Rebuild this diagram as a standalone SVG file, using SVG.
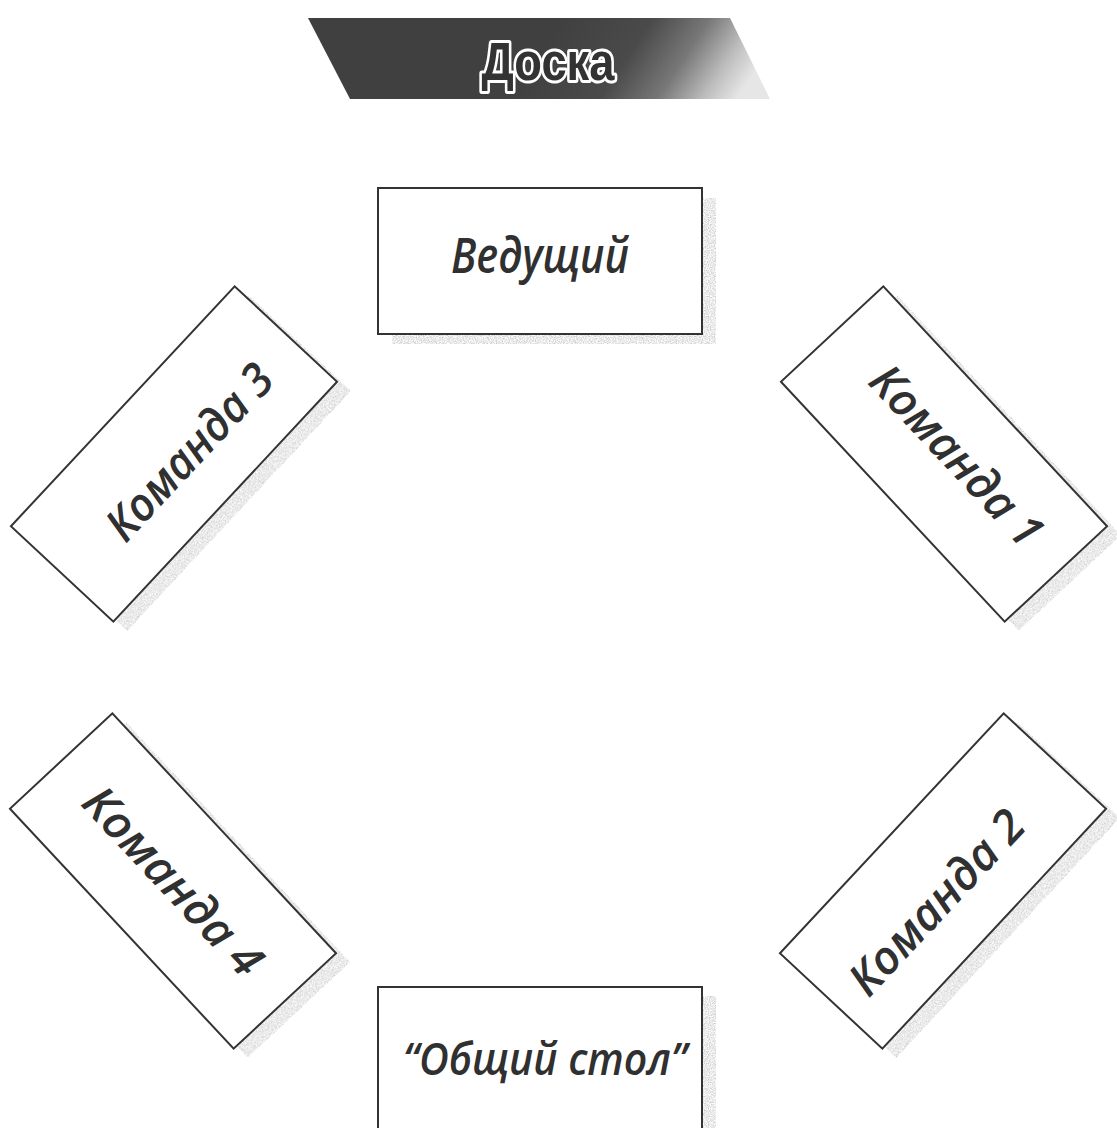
<svg xmlns="http://www.w3.org/2000/svg" width="1117" height="1128" viewBox="0 0 1117 1128">
  <defs>
    <linearGradient id="bannerGrad" gradientUnits="userSpaceOnUse" x1="560" y1="20" x2="720" y2="125">
      <stop offset="0" stop-color="#404040"/>
      <stop offset="0.4" stop-color="#4a4a4a"/>
      <stop offset="0.65" stop-color="#777777"/>
      <stop offset="0.85" stop-color="#bdbdbd"/>
      <stop offset="1" stop-color="#e6e6e6"/>
    </linearGradient>
    <filter id="grain" x="-10%" y="-10%" width="120%" height="120%">
      <feTurbulence type="fractalNoise" baseFrequency="0.85" numOctaves="2" seed="7" result="n"/>
      <feColorMatrix in="n" type="matrix" values="0 0 0 0 0.6  0 0 0 0 0.6  0 0 0 0 0.6  0 0 0 2 -0.6" result="dots"/>
      <feComposite in="dots" in2="SourceGraphic" operator="in" result="d"/>
      <feGaussianBlur in="d" stdDeviation="0.5"/>
    </filter>
  </defs>
  <style>
    .box { fill: #ffffff; stroke: #333333; stroke-width: 2; }
    .shadow { fill: #000000; filter: url(#grain); }
    .lbl { font-family: "Open Sans", "Noto Sans", "DejaVu Sans", sans-serif; font-style: italic; font-weight: 600; fill: #303030; text-anchor: middle; }
    .title { font-family: "Liberation Sans", "DejaVu Sans", sans-serif; font-weight: bold; fill: #333333; stroke: #ffffff; stroke-width: 6; stroke-linejoin: round; paint-order: stroke; text-anchor: middle; }
  </style>
  <rect width="1117" height="1128" fill="#ffffff"/>

  <g id="board">
    <polygon points="308,18 730,18 770,99 350,99" fill="url(#bannerGrad)"/>
    <text class="title" x="548" y="80" font-size="54" textLength="133" lengthAdjust="spacingAndGlyphs">Доска</text>
  </g>

  <g id="host">
    <rect class="shadow" x="392" y="198" width="324" height="146"/>
    <rect class="box" x="378" y="188" width="324" height="146"/>
    <text class="lbl" x="540" y="273" font-size="48" textLength="178" lengthAdjust="spacingAndGlyphs">Ведущий</text>
  </g>

  <g id="team3">
    <g transform="translate(14,9)"><g transform="translate(174,454) rotate(-47)"><rect class="shadow" x="-164" y="-70" width="328" height="140"/></g></g>
    <g transform="translate(174,454) rotate(-47)">
      <rect class="box" x="-164" y="-70" width="328" height="140"/>
      <text class="lbl" x="12" y="26" font-size="46" textLength="222" lengthAdjust="spacingAndGlyphs">Команда 3</text>
    </g>
  </g>

  <g id="team1">
    <g transform="translate(14,9)"><g transform="translate(944,454) rotate(47)"><rect class="shadow" x="-164" y="-70" width="328" height="140"/></g></g>
    <g transform="translate(944,454) rotate(47)">
      <rect class="box" x="-164" y="-70" width="328" height="140"/>
      <text class="lbl" x="10" y="8" font-size="46" textLength="230" lengthAdjust="spacingAndGlyphs">Команда 1</text>
    </g>
  </g>

  <g id="team4">
    <g transform="translate(14,9)"><g transform="translate(173,881) rotate(47)"><rect class="shadow" x="-164" y="-70" width="328" height="140"/></g></g>
    <g transform="translate(173,881) rotate(47)">
      <rect class="box" x="-164" y="-70" width="328" height="140"/>
      <text class="lbl" x="0" y="16" font-size="46" textLength="240" lengthAdjust="spacingAndGlyphs">Команда 4</text>
    </g>
  </g>

  <g id="team2">
    <g transform="translate(14,9)"><g transform="translate(943,881) rotate(-47)"><rect class="shadow" x="-164" y="-70" width="328" height="140"/></g></g>
    <g transform="translate(943,881) rotate(-47)">
      <rect class="box" x="-164" y="-70" width="328" height="140"/>
      <text class="lbl" x="-20" y="26" font-size="46" textLength="234" lengthAdjust="spacingAndGlyphs">Команда 2</text>
    </g>
  </g>

  <g id="common-table">
    <rect class="shadow" x="392" y="996" width="324" height="200"/>
    <rect class="box" x="378" y="987" width="324" height="200"/>
    <text class="lbl" x="545" y="1075" font-size="46" textLength="284" lengthAdjust="spacingAndGlyphs">“Общий стол”</text>
  </g>
</svg>
